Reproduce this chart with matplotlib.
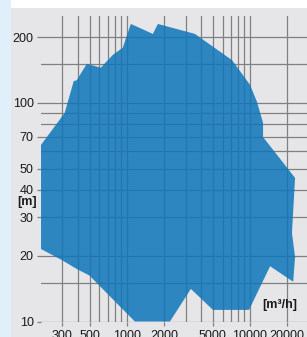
import numpy as np
import matplotlib
matplotlib.use('Agg')
from matplotlib import pyplot as plt
from matplotlib.patches import Rectangle, Polygon

# pump performance envelope, flow [m3/h] vs head [m]
flow = [200, 200, 313, 371, 392, 473, 615, 770, 927, 1078, 1627, 1787,
        3571, 7145, 10000, 11400, 12760, 12760, 23200, 21900, 23200, 22400,
        14550, 9820, 5000, 3310, 2240, 1162, 591, 500, 392, 297]
head = [21.5, 64, 90, 126, 127, 151, 145, 166, 179, 230, 207, 230,
        207, 157, 121, 101, 81, 69.8, 45.4, 25.4, 19.7, 15.2,
        17.9, 11.3, 11.3, 14.1, 10, 10, 14.7, 16.2, 17.4, 19.1]

x_major = [300, 500, 1000, 2000, 5000, 10000, 20000]
x_grid = [300, 400, 500, 600, 700, 800, 900, 1000, 2000, 3000, 4000, 5000,
          6000, 7000, 8000, 9000, 10000, 20000]
y_major = [10, 20, 30, 40, 50, 70, 100, 200]
y_grid = [10, 15, 20, 30, 40, 50, 60, 70, 80, 90, 100, 150, 200]

plt.rcParams['font.family'] = ['Liberation Sans', 'DejaVu Sans']

W, H = 307, 337
fig = plt.figure(figsize=(W / 100, H / 100), dpi=100)
fig.patch.set_facecolor('white')

# background panels
fig.patches.append(Rectangle((0, 0), 11 / W, 1, transform=fig.transFigure,
                             facecolor='#dff0fb', edgecolor='none', zorder=-10))
fig.patches.append(Rectangle((11 / W, 0), 1, (H - 8) / H, transform=fig.transFigure,
                             facecolor='#e6e6e8', edgecolor='none', zorder=-10))

left = 40.7 / W
bottom = (H - 321.5) / H
top = (H - 16) / H
ax = fig.add_axes([left, bottom, 1 - left, top - bottom])
ax.set_facecolor('none')
ax.set_xscale('log')
ax.set_yscale('log')
ax.set_xlim(200, 29000)
ax.set_ylim(10, 250)

for v in x_grid:
    ax.axvline(v, color='#808080', lw=0.9, zorder=1)
for v in y_grid:
    ax.axhline(v, color='#808080', lw=0.9, zorder=1)

ax.add_patch(Polygon(list(zip(flow, head)), closed=True, facecolor='#0e75ba',
                     edgecolor='none', alpha=0.85, zorder=2))

for s in ax.spines.values():
    s.set_visible(False)

ax.set_xticks(x_major)
ax.set_xticklabels([str(v) for v in x_major])
ax.set_yticks(y_major)
ax.set_yticklabels([str(v) for v in y_major])
ax.minorticks_off()
ax.tick_params(axis='both', length=3, width=0.9, color='#808080',
               labelsize=9, colors='#1a1a1a', pad=2)
ax.tick_params(axis='x', pad=3)

fig.text(27 / W, 1 - 202 / H, '[m]', ha='center', va='center',
         fontsize=9, fontweight='bold', color='#1a1a1a')
ax.text(280 / W, 1 - 305 / H, '[m³/h]', transform=fig.transFigure,
        ha='center', va='center', fontsize=9, fontweight='bold',
        color='#1a1a1a', zorder=5)

fig.savefig('out.png', dpi=100)
